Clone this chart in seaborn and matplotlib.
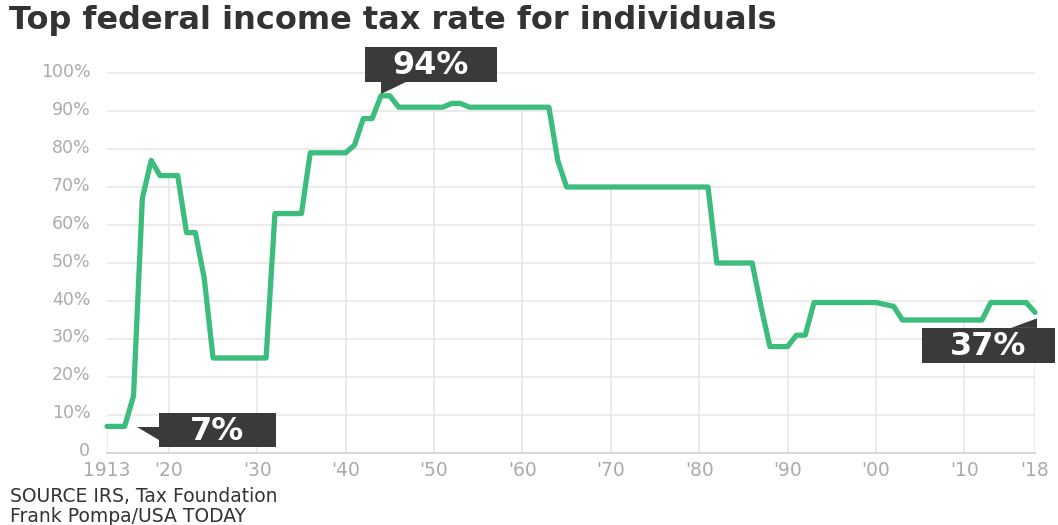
import matplotlib
matplotlib.use("Agg")
import matplotlib.pyplot as plt
import matplotlib.transforms as mtransforms
from matplotlib.patches import Rectangle, Polygon
import seaborn as sns
import pandas as pd

# ---------------- data ----------------
years = list(range(1913, 2019))
rates = ([7, 7, 7, 15, 67, 77, 73, 73, 73, 58, 58, 46]
         + [25] * 7 + [63] * 4 + [79] * 5 + [81, 88, 88, 94, 94]
         + [91] * 6 + [92, 92] + [91] * 10 + [77] + [70] * 17
         + [50] * 5 + [38.5] + [28] * 3 + [31] * 2 + [39.6] * 8
         + [39.1, 38.6] + [35] * 10 + [39.6] * 5 + [37])

x_tick_years = [1913, 1920, 1930, 1940, 1950, 1960, 1970, 1980, 1990, 2000, 2010, 2018]
x_tick_labels = ["1913", "'20", "'30", "'40", "'50", "'60", "'70", "'80", "'90", "'00", "'10", "'18"]
y_ticks = [0, 10, 20, 30, 40, 50, 60, 70, 80, 90, 100]
y_tick_labels = ["0", "10%", "20%", "30%", "40%", "50%", "60%", "70%", "80%", "90%", "100%"]

callout_years = [1944, 1913, 2018]
callout_labels = ["94%", "7%", "37%"]

title = "Top federal income tax rate for individuals"
source_lines = ["SOURCE IRS, Tax Foundation", "Frank Pompa/USA TODAY"]

df = pd.DataFrame({"year": years, "rate": rates})
rate_of = dict(zip(years, rates))

# ---------------- style ----------------
sns.set_theme(style="white")
plt.rcParams["font.family"] = ["DejaVu Sans"]

W, H = 1058, 525
fig = plt.figure(figsize=(W / 100, H / 100), dpi=100)
fig.patch.set_facecolor("white")

y0_px, y100_px = 453, 73
x0_px, x1_px = 107, 1035
px_per_unit = (y0_px - y100_px) / 100.0
ytop = 101
top_px = y0_px - ytop * px_per_unit
ax = fig.add_axes([x0_px / W, 1 - y0_px / H, (x1_px - x0_px) / W, (y0_px - top_px) / H])

GREEN = "#3dbd7d"
GRID = "#e6e6e6"
TICK = "#ababab"
DARK = "#3a3a3a"

# drop lines at decade ticks (from data)
ax.vlines(x_tick_years, 0, [rate_of[y] for y in x_tick_years], color=GRID, lw=1.1, zorder=1)

sns.lineplot(data=df, x="year", y="rate", ax=ax, color=GREEN, lw=3.8, zorder=3,
             clip_on=False)

ax.set_xlim(1913, 2018)
ax.set_ylim(0, ytop)
ax.set_yticks(y_ticks)
ax.set_yticklabels(y_tick_labels)
ax.set_xticks(x_tick_years)
ax.set_xticklabels(x_tick_labels)
ax.yaxis.grid(True, color=GRID, lw=1.1, zorder=0)
ax.xaxis.grid(False)
ax.set_axisbelow(True)
ax.set_xlabel("")
ax.set_ylabel("")
for s in ["top", "right", "left"]:
    ax.spines[s].set_visible(False)
ax.spines["bottom"].set_color("#d4d4d4")
ax.spines["bottom"].set_linewidth(1.3)
ax.tick_params(axis="y", length=0, pad=12, labelsize=12.5, labelcolor=TICK)
ax.tick_params(axis="x", length=0, pad=6, labelsize=13.5, labelcolor=TICK)
# y labels sit slightly above their gridlines in the reference
lift = mtransforms.ScaledTranslation(0, 3.5 / 100, fig.dpi_scale_trans)
for t in ax.get_yticklabels():
    t.set_transform(t.get_transform() + lift)

# ---------------- callouts (pixel offsets relative to data point) ----------------
box_geo = {
    "94%": ((-16, 14, 132, 35), [(0, 2), (0, 14.5), (27, 14.5)]),
    "7%": ((52, -21, 117, 34), [(30, -1), (52.5, -1), (52.5, -14)]),
    "37%": ((-113, -51, 133, 35), [(-24, -15.5), (2, -6), (2, -15.5)]),
}
for yr, lab in zip(callout_years, callout_labels):
    tr = mtransforms.IdentityTransform() + mtransforms.ScaledTranslation(
        yr, rate_of[yr], ax.transData)
    (bx, by, bw, bh), tri = box_geo[lab]
    ax.add_patch(Rectangle((bx, by), bw, bh, transform=tr, facecolor=DARK,
                           edgecolor="none", clip_on=False, zorder=5))
    ax.add_patch(Polygon(tri, closed=True, transform=tr, facecolor=DARK,
                         edgecolor="none", clip_on=False, zorder=5))
    ax.text(bx + bw / 2, by + bh / 2 - 1, lab, transform=tr, ha="center", va="center",
            color="white", fontsize=23, fontweight="bold", zorder=6, clip_on=False)

# ---------------- title & source ----------------
fig.text(9 / W, 1 - 29 / H, title, ha="left", va="baseline", fontsize=23,
         fontweight="bold", color="#333333")
fig.text(10 / W, 1 - 502 / H, source_lines[0], ha="left", va="baseline",
         fontsize=13.5, color="#333333")
fig.text(10 / W, 1 - 522 / H, source_lines[1], ha="left", va="baseline",
         fontsize=13.5, color="#333333")

fig.savefig("out.png", dpi=100, facecolor="white")
